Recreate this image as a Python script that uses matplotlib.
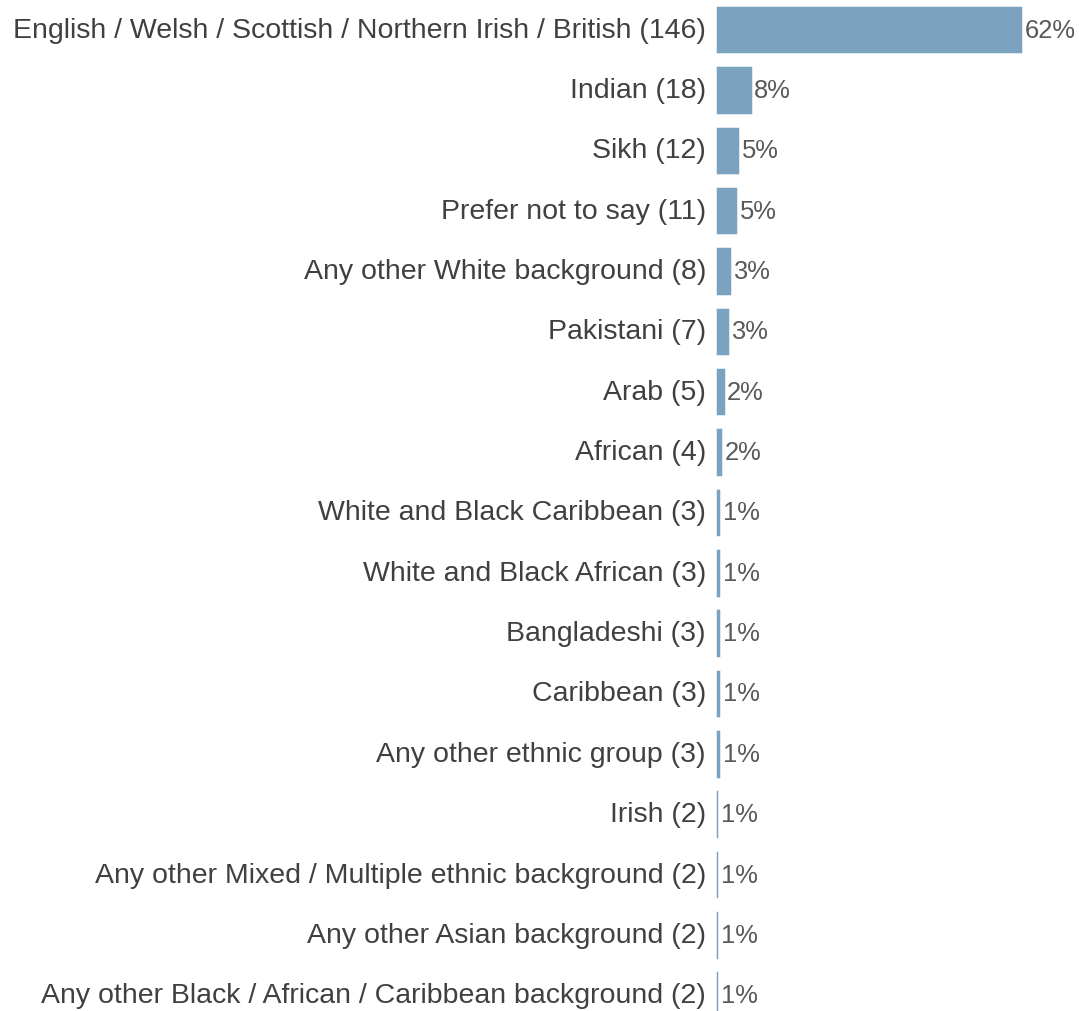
import matplotlib
matplotlib.use("Agg")
import matplotlib.pyplot as plt

categories = [
    "English / Welsh / Scottish / Northern Irish / British",
    "Indian",
    "Sikh",
    "Prefer not to say",
    "Any other White background",
    "Pakistani",
    "Arab",
    "African",
    "White and Black Caribbean",
    "White and Black African",
    "Bangladeshi",
    "Caribbean",
    "Any other ethnic group",
    "Irish",
    "Any other Mixed / Multiple ethnic background",
    "Any other Asian background",
    "Any other Black / African / Caribbean background",
]
counts = [146, 18, 12, 11, 8, 7, 5, 4, 3, 3, 3, 3, 3, 2, 2, 2, 2]
percent_labels = ["62%", "8%", "5%", "5%", "3%", "3%", "2%", "2%",
                  "1%", "1%", "1%", "1%", "1%", "1%", "1%", "1%", "1%"]

BAR_COLOR = "#7BA2BF"
LABEL_COLOR = "#404040"
VALUE_COLOR = "#595959"

plt.rcParams["font.family"] = ["Liberation Sans", "DejaVu Sans"]

W, H = 1079, 1012
fig = plt.figure(figsize=(W / 100, H / 100), dpi=100)

# axes placed in pixel terms: left edge at the bar baseline
left_px, right_px = 715, 1079
top_px, bottom_px = 0.5, 1026.4
ax = fig.add_axes([left_px / W, (H - bottom_px) / H,
                   (right_px - left_px) / W, (bottom_px - top_px) / H])

n = len(categories)
ypos = list(range(n))
xmax = 146 * (right_px - left_px) / 308.0

ax.barh(ypos, counts, height=0.82, color=BAR_COLOR,
        edgecolor="white", linewidth=1.8)
ax.set_xlim(0, xmax)
ax.set_ylim(n - 0.5, -0.5)

for y, c, name, pct in zip(ypos, counts, categories, percent_labels):
    ax.annotate(f"{name} ({c})", xy=(0, y), xytext=(-6.5, 0),
                textcoords="offset points", ha="right", va="center",
                fontsize=20.5, color=LABEL_COLOR, annotation_clip=False)
    ax.annotate(pct, xy=(c, y), xytext=(1.0, 0),
                textcoords="offset points", ha="left", va="center",
                fontsize=18.4, color=VALUE_COLOR, annotation_clip=False)

ax.axis("off")
fig.savefig("out.png", dpi=100)
